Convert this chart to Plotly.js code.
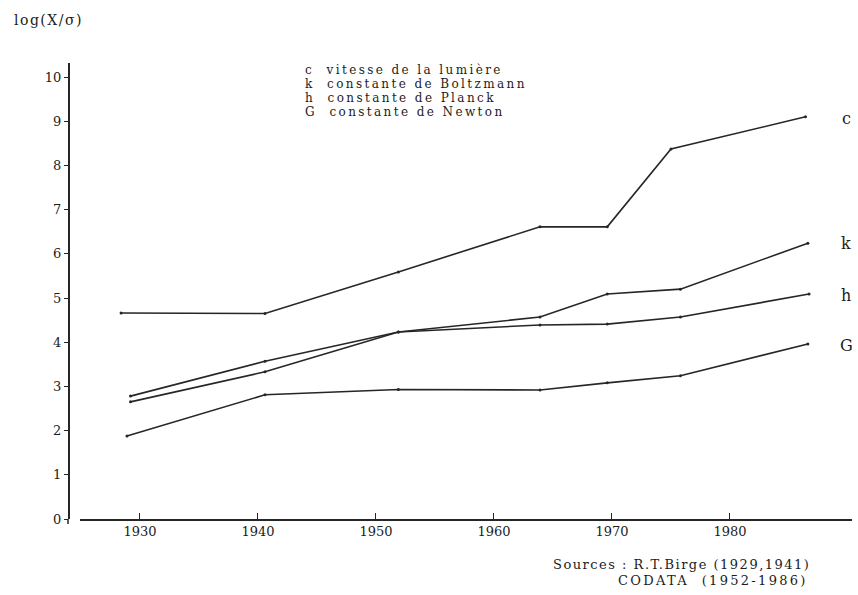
<!DOCTYPE html>
<html>
<head>
<meta charset="utf-8">
<script src="https://cdn.plot.ly/plotly-3.0.1.min.js"></script>
<style>html,body{margin:0;padding:0;background:#fff;}#chart{width:858px;height:595px;}</style>
</head>
<body>
<div id="chart"></div>
<script>
// ---- data ----
const yearsC = [1928.4, 1940.6, 1951.9, 1963.9, 1969.6, 1975.0, 1986.4];
const valuesC = [4.66, 4.65, 5.59, 6.61, 6.61, 8.37, 9.10];
const yearsK = [1929.2, 1940.6, 1951.9, 1963.9, 1969.6, 1975.8, 1986.6];
const valuesK = [2.78, 3.57, 4.23, 4.57, 5.09, 5.20, 6.24];
const yearsH = [1929.2, 1940.6, 1951.9, 1963.9, 1969.6, 1975.8, 1986.7];
const valuesH = [2.65, 3.33, 4.23, 4.39, 4.41, 4.57, 5.09];
const yearsG = [1928.9, 1940.6, 1951.9, 1963.9, 1969.6, 1975.8, 1986.6];
const valuesG = [1.88, 2.81, 2.93, 2.92, 3.08, 3.24, 3.96];

const xTicks = [1930, 1940, 1950, 1960, 1970, 1980];
const yTicks = [0, 1, 2, 3, 4, 5, 6, 7, 8, 9, 10];
const seriesNames = ['c', 'k', 'h', 'G'];
const legendLines = [
  'c  vitesse de la lumière',
  'k  constante de Boltzmann',
  'h  constante de Planck',
  'G  constante de Newton'
];
const yLabel = 'log(X/σ)';
const sourceLine1 = 'Sources : R.T.Birge (1929,1941)';
const sourceLine2 = 'CODATA  (1952-1986)';

// ---- layout helpers (pixel -> paper) ----
const W = 858, H = 595;
const L = 68, R = 6, T = 63, B = 76;
const pw = W - L - R, ph = H - T - B;
const px = x => (x - L) / pw;
const py = y => (H - B - y) / ph;

const ink = '#262626';
const txt = '#1c1c1c';
const font = 'DejaVu Serif, Liberation Serif, serif';

const allX = [yearsC, yearsK, yearsH, yearsG];
const allY = [valuesC, valuesK, valuesH, valuesG];
const traces = allX.map((xs, i) => ({
  x: xs, y: allY[i], name: seriesNames[i], type: 'scatter', mode: 'lines+markers',
  line: {color: ink, width: 1.6}, marker: {color: ink, size: 3},
  hoverinfo: 'x+y+name'
}));

const ann = [];
ann.push({text: yLabel, xref: 'paper', yref: 'paper', x: px(13), y: py(20), xanchor: 'left', yanchor: 'middle', showarrow: false, borderpad: 0, font: {family: font, size: 14, color: txt}});
const legY = [70, 84, 98, 112];
legendLines.forEach((t, i) => ann.push({text: t, xref: 'paper', yref: 'paper', x: px(304), y: py(legY[i]), xanchor: 'left', yanchor: 'middle', showarrow: false, borderpad: 0, font: {family: font, size: 12, color: txt}}));
const endY = [118, 244, 295, 345];
seriesNames.forEach((t, i) => ann.push({text: t, xref: 'paper', yref: 'paper', x: px(846), y: py(endY[i]), xanchor: 'center', yanchor: 'middle', showarrow: false, font: {family: font, size: 16, color: txt}}));
ann.push({text: sourceLine1, xref: 'paper', yref: 'paper', x: px(552), y: py(564), xanchor: 'left', yanchor: 'middle', showarrow: false, borderpad: 0, font: {family: font, size: 13, color: txt}});
ann.push({text: sourceLine2, xref: 'paper', yref: 'paper', x: px(617), y: py(580), xanchor: 'left', yanchor: 'middle', showarrow: false, borderpad: 0, font: {family: font, size: 13, color: txt}});

const layout = {
  width: W, height: H,
  margin: {l: L, r: R, t: T, b: B, pad: 0},
  paper_bgcolor: '#fff', plot_bgcolor: '#fff',
  showlegend: false,
  xaxis: {
    domain: [(80 - L) / pw, 1],
    range: [1924.92, 1990.34],
    tickvals: xTicks, ticktext: xTicks.map(String),
    ticks: 'inside', ticklen: 6, tickwidth: 1, tickcolor: ink,
    showline: true, linecolor: ink, linewidth: 1.5,
    showgrid: false, zeroline: false,
    tickfont: {family: font, size: 13, color: txt}
  },
  yaxis: {
    anchor: 'free', position: 0,
    range: [0, ph / 44.2],
    tickvals: yTicks, ticktext: yTicks.map(String),
    ticks: 'outside', ticklen: 4, tickwidth: 1, tickcolor: ink,
    showline: true, linecolor: ink, linewidth: 1.5,
    showgrid: false, zeroline: false,
    tickfont: {family: font, size: 13, color: txt}
  },
  shapes: [{type: 'line', xref: 'paper', yref: 'paper', x0: 0, x1: 0, y0: py(524), y1: 0, line: {color: ink, width: 1.5}}],
  annotations: ann
};

// the reference's printer font is widely spaced: widen a few texts, keeping their left edge
const spacing = {};
legendLines.forEach(t => { spacing[t] = 2.4; });
spacing[sourceLine1] = 1.5;
spacing[sourceLine2] = 2.3;
spacing[yLabel] = 1.5;

Plotly.newPlot('chart', traces, layout, {displayModeBar: false, staticPlot: true}).then(gd => {
  gd.querySelectorAll('.annotation-text').forEach(el => {
    const s = spacing[el.textContent.replace(/\u00a0/g, ' ')];
    if (!s) return;
    const left0 = el.getBBox().x;
    el.style.letterSpacing = s + 'px';
    el.setAttribute('text-anchor', 'start');
    const x = parseFloat(el.getAttribute('x')) || 0;
    const left1 = el.getBBox().x;
    el.setAttribute('x', x + (left0 - left1));
  });
});
</script>
</body>
</html>
